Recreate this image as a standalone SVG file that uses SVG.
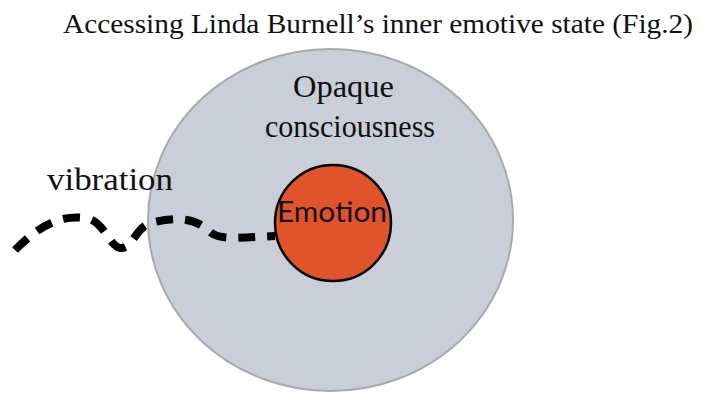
<svg xmlns="http://www.w3.org/2000/svg" width="701" height="394" viewBox="0 0 701 394">
<style>
.serif{font-family:"Liberation Serif","Times New Roman",Times,serif;fill:#111}
.sans{font-family:"Lato","Open Sans",sans-serif;fill:#111}
</style>
<rect width="701" height="394" fill="#fff"/>
<text class="serif" x="63" y="33" font-size="28" textLength="630" lengthAdjust="spacingAndGlyphs">Accessing Linda Burnell’s inner emotive state (Fig.2)</text>
<g id="opaque">
<ellipse cx="330.5" cy="220" rx="182.5" ry="171" fill="#c9ced8" stroke="#aaaaaa" stroke-width="2"/>
<text class="serif" x="293" y="97" font-size="32" textLength="101" lengthAdjust="spacingAndGlyphs">Opaque</text>
<text class="serif" x="265" y="137" font-size="32" textLength="170" lengthAdjust="spacingAndGlyphs">consciousness</text>
</g>
<g id="vibration-label">
<text class="serif" x="47" y="190" font-size="32" textLength="126" lengthAdjust="spacingAndGlyphs">vibration</text>
</g>
<g id="connectors">
<path d="M15,250 C40,225 60,215 85,218 C105,220 110,250 122,248 C135,246 135,225 155,222 C185,215 200,222 210,232 C220,240 235,238 275,236" fill="none" stroke="#000" stroke-width="8" stroke-dasharray="17 12"/>
</g>
<g id="emotion">
<circle cx="333" cy="223" r="58" fill="#e0532b" stroke="#000" stroke-width="2.5"/>
<text class="sans" x="332" y="222" font-size="28" text-anchor="middle" textLength="110" lengthAdjust="spacingAndGlyphs">Emotion</text>
</g>
</svg>
